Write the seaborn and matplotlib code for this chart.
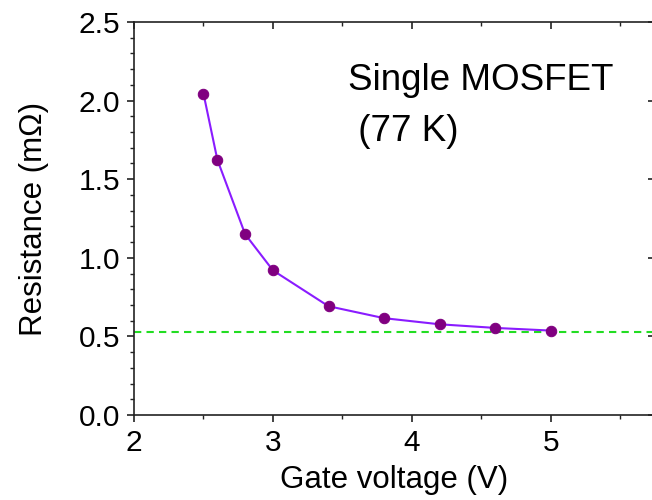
import numpy as np
import pandas as pd
import matplotlib
matplotlib.use("Agg")
import matplotlib.pyplot as plt
import seaborn as sns
from matplotlib.ticker import MultipleLocator

# Data
gate_voltage = [2.5, 2.6, 2.8, 3.0, 3.4, 3.8, 4.2, 4.6, 5.0]
resistance = [2.045, 1.624, 1.150, 0.920, 0.692, 0.616, 0.577, 0.554, 0.537]
reference_level = 0.53
x_ticks = [2, 3, 4, 5]
y_ticks = [0.0, 0.5, 1.0, 1.5, 2.0, 2.5]

sns.set_theme(style="ticks")
plt.rcParams['font.family'] = ['Liberation Sans', 'DejaVu Sans']
plt.rcParams['text.color'] = 'black'
plt.rcParams['axes.labelcolor'] = 'black'

fig = plt.figure(figsize=(6.52, 5.00), dpi=100)
ax = fig.add_axes([134/652, 1-415/500, (655-134)/652, (415-22)/500])

df = pd.DataFrame({"V": gate_voltage, "R": resistance})
ax.axhline(reference_level, color="#22DD22", lw=1.5, dashes=(3.5, 2.5), zorder=1)
sns.lineplot(data=df, x="V", y="R", ax=ax, color="#8A1CFF", lw=1.5,
             marker="o", markersize=7.5, markerfacecolor="#800080",
             markeredgecolor="#800080", zorder=3)

ax.set_xlim(2, 5.75)
ax.set_ylim(0, 2.5)
ax.set_xticks(x_ticks)
ax.set_yticks(y_ticks)
ax.set_yticklabels([f"{v:.1f}" for v in y_ticks])
ax.xaxis.set_minor_locator(MultipleLocator(0.5))
ax.yaxis.set_minor_locator(MultipleLocator(0.1))

for s in ax.spines.values():
    s.set_linewidth(1.2)
    s.set_color("#222222")

ax.tick_params(axis="both", which="major", direction="out", length=5,
               width=1.2, labelsize=21.5, pad=5, colors="#222222",
               labelcolor="black", top=False, right=False)
ax.tick_params(axis="both", which="minor", direction="out", length=3,
               width=1.0, colors="#222222", top=False, right=False)

# top & right inward ticks
sec_x = ax.secondary_xaxis("top")
sec_x.set_xticks(x_ticks)
sec_x.xaxis.set_minor_locator(MultipleLocator(0.5))
sec_x.tick_params(which="major", direction="in", length=5, width=1.2,
                  labeltop=False, colors="#222222")
sec_x.tick_params(which="minor", direction="in", length=3, width=1.0,
                  colors="#222222")
sec_x.spines["top"].set_visible(False)
sec_y = ax.secondary_yaxis("right")
sec_y.set_yticks(y_ticks)
sec_y.tick_params(which="major", direction="in", length=5, width=1.2,
                  labelright=False, colors="#222222")
sec_y.spines["right"].set_visible(False)

ax.set_xlabel("Gate voltage (V)", fontsize=22.5, labelpad=6)
ax.set_ylabel("Resistance (mΩ)", fontsize=22.5, labelpad=21)

ax.text(348/652, 1-90/500, "Single MOSFET", transform=fig.transFigure,
        fontsize=26.5, ha="left", va="baseline", color="black")
ax.text(348/652, 1-141/500, " (77 K)", transform=fig.transFigure,
        fontsize=26.5, ha="left", va="baseline", color="black")

fig.savefig("out.png", dpi=100)
